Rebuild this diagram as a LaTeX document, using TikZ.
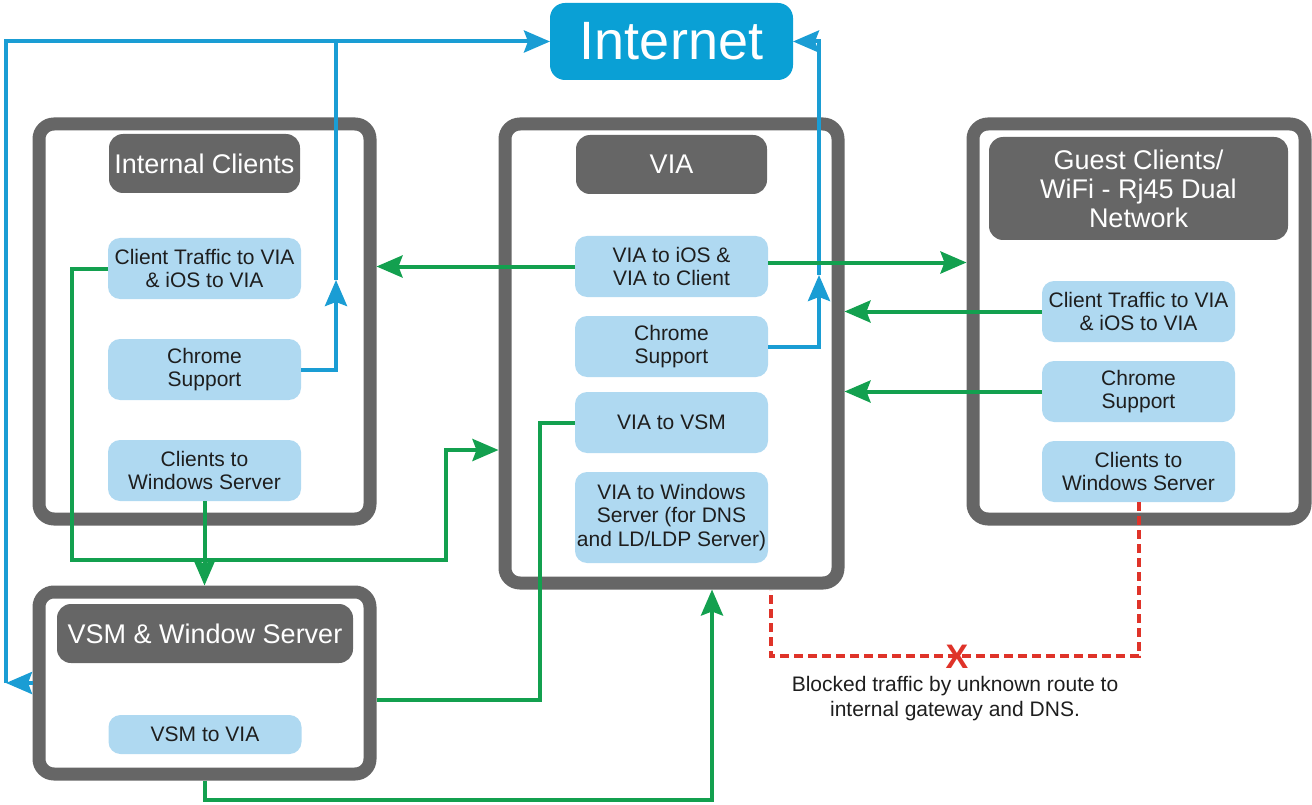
\documentclass[tikz,border=0pt]{standalone}
\usepackage{fontspec}
\setmainfont{Liberation Sans}
\usetikzlibrary{positioning}
\usetikzlibrary{arrows.meta, positioning}
\definecolor{boxgray}{HTML}{666666}
\definecolor{itemblue}{HTML}{AFD9F1}
\definecolor{itemtext}{HTML}{1E1E1E}
\definecolor{netblue}{HTML}{0AA0D5}
\definecolor{linkblue}{HTML}{1A9DD4}
\definecolor{linkgreen}{HTML}{13A04F}
\definecolor{blockred}{HTML}{DF3329}
\tikzstyle{groupbox} = [draw=boxgray, line width=13pt, rounded corners=15pt, inner sep=0pt]
\tikzstyle{headbox} = [fill=boxgray, text=white, rounded corners=14pt, inner sep=0pt, outer sep=0pt, align=center, font=\fontsize{27}{29}\selectfont]
\tikzstyle{itembox} = [fill=itemblue, text=itemtext, rounded corners=12pt, inner sep=0pt, outer sep=0pt, minimum width=193pt, minimum height=61pt, align=center, font=\fontsize{21}{23.3}\selectfont]
\tikzstyle{netbox} = [fill=netblue, text=white, rounded corners=15pt, inner sep=0pt, outer sep=0pt, font=\fontsize{54}{60}\selectfont]
\tikzstyle{flow} = [line width=4pt, -{Stealth[length=26pt, width=22pt, inset=4pt]}]
\tikzstyle{greenflow} = [flow, draw=linkgreen]
\tikzstyle{blueflow} = [flow, draw=linkblue]
\tikzstyle{greenline} = [line width=4pt, draw=linkgreen]
\tikzstyle{blueline} = [line width=4pt, draw=linkblue]
\tikzstyle{blockedline} = [line width=4pt, draw=blockred, dash pattern=on 9pt off 5pt]

\begin{document}
\begin{tikzpicture}[x=1pt, y=-1pt]
    \useasboundingbox (0,0) rectangle (1312,805);

    \node[groupbox, minimum width=331pt, minimum height=395pt] (intbox) at (204.5,321.5) {};
    \node[groupbox, minimum width=333pt, minimum height=459pt] (viabox) at (671.5,353.5) {};
    \node[groupbox, minimum width=332pt, minimum height=395pt] (guestbox) at (1139,321.5) {};
    \node[groupbox, minimum width=331pt, minimum height=182pt] (vsmbox) at (204.5,683) {};

    \node[netbox, minimum width=243pt, minimum height=77pt] (internet) at (671.5,41.5) {Internet};

    \node[headbox, minimum width=191pt, minimum height=59pt] (inthead) at (204.5,163.5) {Internal Clients};
    \node[itembox, below=45pt of inthead] (inttraffic) {Client Traffic to VIA\\\& iOS to VIA};
    \node[itembox, below=40pt of inttraffic] (intchrome) {Chrome\\Support};
    \node[itembox, below=40pt of intchrome] (intwin) {Clients to\\Windows Server};

    \node[headbox, minimum width=191pt, minimum height=59pt] (viahead) at (671.5,164.5) {VIA};
    \node[itembox, below=42pt of viahead] (viaios) {VIA to iOS \&\\VIA to Client};
    \node[itembox, below=19pt of viaios] (viachrome) {Chrome\\Support};
    \node[itembox, below=15pt of viachrome] (viavsm) {VIA to VSM};
    \node[itembox, below=19pt of viavsm, minimum height=91pt] (viawin) {VIA to Windows\\Server (for DNS\\and LD/LDP Server)};

    \node[headbox, minimum width=299pt, minimum height=103pt] (guesthead) at (1138.5,188.5) {Guest Clients/\\WiFi - Rj45 Dual\\Network};
    \node[itembox, below=41pt of guesthead] (guesttraffic) {Client Traffic to VIA\\\& iOS to VIA};
    \node[itembox, below=19pt of guesttraffic] (guestchrome) {Chrome\\Support};
    \node[itembox, below=19pt of guestchrome] (guestwin) {Clients to\\Windows Server};

    \node[headbox, minimum width=296pt, minimum height=59pt] (vsmhead) at (205,633.5) {VSM \& Window Server};
    \node[itembox, below=52pt of vsmhead, minimum height=39pt] (vsmvia) {VSM to VIA};

    \coordinate (leftbot) at (6,683);
    \coordinate (intup) at (336,280);
    \coordinate (viaup) at (819,275);
    \draw[blueflow] (vsmbox.west) -- (leftbot);
    \draw[blueflow] (leftbot) |- (internet.west);
    \draw[blueflow] (intchrome.east) -| (intup);
    \draw[blueline] (intup) -- (intup |- internet.west);
    \draw[blueflow] (viachrome.east) -| (viaup);
    \draw[blueflow] (viaup) |- (internet.east);

    \draw[greenflow] (viaios.west) -- (viaios.west -| intbox.east);
    \draw[greenflow] ([yshift=4pt]viaios.east) -- ([yshift=4pt]viaios.east -| guestbox.west);
    \draw[greenflow] (guesttraffic.west) -- (guesttraffic.west -| viabox.east);
    \draw[greenflow] (guestchrome.west) -- (guestchrome.west -| viabox.east);

    \coordinate (loopa) at (72,560);
    \coordinate (loopb) at (446,450);
    \draw[greenflow] (inttraffic.west) -| (loopa) -| (loopb) -- (loopb -| viabox.west);
    \draw[greenflow] (intwin.south) -- (intwin.south |- vsmbox.north);

    \coordinate (vsmlink) at (540,700);
    \draw[greenline] (vsmlink -| vsmbox.east) -- (vsmlink) |- (viavsm.west);
    \coordinate (viabottom) at (712,800);
    \draw[greenflow] (vsmbox.south) |- (viabottom) -- (viabottom |- viabox.south);

    \coordinate (blockleft) at (771,656);
    \draw[blockedline] (guestwin.south) |- (blockleft) -- (blockleft |- viabox.south);
    \node[text=blockred, font=\fontsize{34}{34}\selectfont\bfseries, inner sep=0pt] (blockx) at (957,657) {X};
    \node[text=itemtext, font=\fontsize{21}{25}\selectfont, align=center, anchor=north, inner sep=0pt] (blocknote) at (955,676) {Blocked traffic by unknown route to\\internal gateway and DNS.};
\end{tikzpicture}
\end{document}
